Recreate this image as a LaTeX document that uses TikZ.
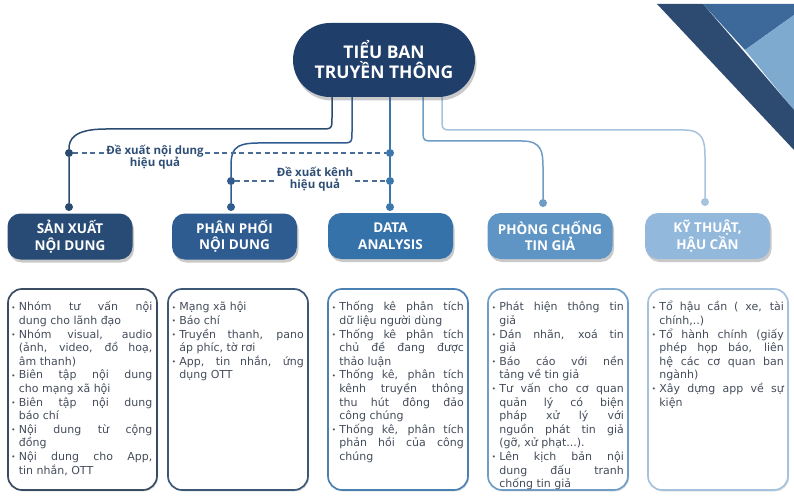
\documentclass[tikz,border=0pt]{standalone}
\usepackage{fontspec}
\setmainfont{Open Sans}
\newfontfamily\headfont{Open Sans}
\newfontfamily\bodyfont{DejaVu Sans}
\usetikzlibrary{shadows,calc,backgrounds}
\definecolor{cTitle}{HTML}{1F3E69}
\definecolor{cH1}{HTML}{284B75}
\definecolor{cH2}{HTML}{2E5C91}
\definecolor{cH3}{HTML}{3572AA}
\definecolor{cH4}{HTML}{5F95C4}
\definecolor{cH5}{HTML}{92B8DC}
\definecolor{cL1}{HTML}{2A4A70}
\definecolor{cL2}{HTML}{2F5B8F}
\definecolor{cL3}{HTML}{3A77AD}
\definecolor{cL4}{HTML}{6D9DC6}
\definecolor{cL5}{HTML}{A5C3DD}
\definecolor{cB1}{HTML}{3A4C62}
\definecolor{cB2}{HTML}{3D5877}
\definecolor{cB3}{HTML}{4B80B2}
\definecolor{cB4}{HTML}{709DC5}
\definecolor{cB5}{HTML}{A4C2DD}
\definecolor{cLabel}{HTML}{2E4E76}
\definecolor{cDash}{HTML}{4A6D96}
\definecolor{cText}{HTML}{454D5B}
\definecolor{cDark}{HTML}{2D4B70}
\definecolor{cMed}{HTML}{3C6999}
\definecolor{cLight}{HTML}{7FAAD0}
\newcommand\itm[1]{\par\hangindent=7.5pt\hangafter=1\noindent\makebox[7.5pt][l]{\raisebox{0.8pt}{\fontsize{7}{7}\selectfont\textbullet}}#1\par}
\begin{document}
\begin{tikzpicture}[x=1pt,y=-1pt,
  titlebox/.style={rectangle, rounded corners=37pt, fill=cTitle, minimum width=182pt, minimum height=74pt,
    text=white, align=center, font=\headfont\bfseries\fontsize{17.5}{20}\selectfont,
    drop shadow={shadow xshift=1.5pt, shadow yshift=-3.5pt, opacity=.3, fill=black!70}},
  headbox/.style={rectangle, rounded corners=13pt, fill=#1, minimum width=125pt, minimum height=46pt,
    text=white, align=center, font=\headfont\bfseries\fontsize{13.5}{16.5}\selectfont,
    drop shadow={shadow xshift=1.5pt, shadow yshift=-3pt, opacity=.3, fill=black!70}},
  listbox/.style={rectangle, rounded corners=14pt, fill=white, draw=#1, line width=1.7pt,
    minimum height=201pt, drop shadow={shadow xshift=1.2pt, shadow yshift=-1.5pt, opacity=.18, fill=black!60}},
  listtext/.style={anchor=north west, inner sep=0pt, text width=#1, align=justify, text=cText,
    font={\bodyfont\fontsize{11}{13.6}\selectfont\tolerance=10000\hbadness=10000}},
  conn/.style={line width=1.5pt},
  dot/.style={circle, inner sep=0pt, minimum size=8pt, fill=#1},
  dashline/.style={draw=cDash, line width=1.3pt, dash pattern=on 5pt off 3.5pt},
  lbl/.style={font=\headfont\bfseries\fontsize{11.5}{12.5}\selectfont, text=cLabel, align=center, inner sep=1.5pt}
]
\useasboundingbox (0,0) rectangle (794,497);
% corner decoration
\fill[cMed] (703,4) -- (794,4) -- (794,15) -- (745,50) -- cycle;
\fill[cLight] (745,50) -- (794,15) -- (794,110) -- cycle;
\fill[cDark] (657,4) -- (703,4) -- (794,110) -- (794,150) -- cycle;

% title
\node[titlebox] (T) at (384,60) {TIỂU BAN\\TRUYỀN THÔNG};

% headers
\node[headbox=cH1] (h1) at (70,236.5) {SẢN XUẤT\\NỘI DUNG};
\node[headbox=cH2] (h2) at (234.5,236.5) {PHÂN PHỐI\\NỘI DUNG};
\node[headbox=cH3] (h3) at (390.5,236) {DATA\\ANALYSIS};
\node[headbox=cH4] (h4) at (550,236) {PHÒNG CHỐNG\\TIN GIẢ};
\node[headbox=cH5] (h5) at (707.5,236) {KỸ THUẬT,\\HẬU CẦN};

% dots
\node[dot=cL1] (d1a) at (69,153) {};
\node[dot=cL1] (d1b) at (69,207) {};
\node[dot=cL2] (d2a) at (231,181) {};
\node[dot=cL2] (d2b) at (231,207) {};
\node[dot=cL3] (d3a) at (390,153) {};
\node[dot=cL3] (d3b) at (390,181) {};
\node[dot=cL3] (d3c) at (390,207) {};
\node[dot=cL4] (d4) at (543,203) {};
\node[dot=cL5] (d5) at (705,202) {};

% labels
\node[lbl] (L1) at (155,157) {Đề xuất nội dung\\hiệu quả};
\node[lbl] (L2) at (315,179) {Đề xuất kênh\\hiệu quả};

\begin{scope}[on background layer]
\draw[conn, cL1] ($(T.south)+(-52,-8)$) -- (332,117) .. controls (332,129) .. (320,129) -- (106,129)
   .. controls (73,129) and (69,140) .. (d1a) -- (d1b);
\draw[conn, cL2] ($(T.south)+(-32,-8)$) -- (352,131) .. controls (352,143) .. (340,143) -- (258,143)
   .. controls (232,143) and (231,152) .. (231,168) -- (d2a) -- (d2b);
\draw[conn, cL3] ($(T.south)+(6,-8)$) -- (d3a) -- (d3b) -- (d3c);
\draw[conn, cL4] ($(T.south)+(39,-8)$) -- (423,129) .. controls (423,141) .. (435,141) -- (522,141)
   .. controls (542,141) and (543,152) .. (543,168) -- (d4);
\draw[conn, cL5] ($(T.south)+(58,-8)$) -- (442,118) .. controls (442,130) .. (454,130) -- (684,130)
   .. controls (704,130) and (705,142) .. (705,158) -- (d5);
\draw[dashline] (d1a) -- (d1a -| L1.west);
\draw[dashline] (d1a -| L1.east) -- (d3a);
\draw[dashline] (d2a) -- (d2a -| L2.west);
\draw[dashline] (d2a -| L2.east) -- (d3b);
\end{scope}

% list boxes
\node[listbox=cB1, minimum width=149pt] (b1) at (82.5,389.5) {};
\node[listbox=cB2, minimum width=140pt] (b2) at (238,389.5) {};
\node[listbox=cB3, minimum width=140pt] (b3) at (398,389.5) {};
\node[listbox=cB4, minimum width=140pt] (b4) at (558,389.5) {};
\node[listbox=cB5, minimum width=140pt] (b5) at (718,389.5) {};

\node[listtext=141pt] (t1) at ($(b1.north west)+(4,9)$) {%
\itm{Nhóm tư vấn nội\linebreak dung cho lãnh đạo}
\itm{Nhóm visual, audio\linebreak (ảnh, video, đồ hoạ,\linebreak âm thanh)}
\itm{Biên tập nội dung\linebreak cho mạng xã hội}
\itm{Biên tập nội dung\linebreak báo chí}
\itm{Nội dung từ cộng\linebreak đồng}
\itm{Nội dung cho App,\linebreak tin nhắn, OTT}};
\node[listtext=132pt] (t2) at ($(b2.north west)+(4.5,9)$) {%
\itm{Mạng xã hội}
\itm{Báo chí}
\itm{Truyền thanh, pano\linebreak áp phíc, tờ rơi}
\itm{App, tin nhắn, ứng\linebreak dụng OTT}};
\node[listtext=132pt] (t3) at ($(b3.north west)+(4.5,9)$) {%
\itm{Thống kê phân tích\linebreak dữ liệu người dùng}
\itm{Thống kê phân tích\linebreak chủ đề đang được\linebreak thảo luận}
\itm{Thống kê, phân tích\linebreak kênh truyền thông\linebreak thu hút đông đảo\linebreak công chúng}
\itm{Thống kê, phân tích\linebreak phản hồi của công\linebreak chúng}};
\node[listtext=132pt] (t4) at ($(b4.north west)+(4.5,9)$) {%
\itm{Phát hiện thông tin\linebreak giả}
\itm{Dán nhãn, xoá tin\linebreak giả}
\itm{Báo cáo với nền\linebreak tảng về tin giả}
\itm{Tư vấn cho cơ quan\linebreak quản lý có biện\linebreak pháp xử lý với\linebreak nguồn phát tin giả\linebreak (gỡ, xử phạt...).}
\itm{Lên kịch bản nội\linebreak dung đấu tranh\linebreak chống tin giả}};
\node[listtext=132pt] (t5) at ($(b5.north west)+(4.5,9)$) {%
\itm{Tổ hậu cần ( xe, tài\linebreak chính,..)}
\itm{Tổ hành chính (giấy\linebreak phép họp báo, liên\linebreak hệ các cơ quan ban\linebreak ngành)}
\itm{Xây dựng app về sự\linebreak kiện}};
\end{tikzpicture}
\end{document}
